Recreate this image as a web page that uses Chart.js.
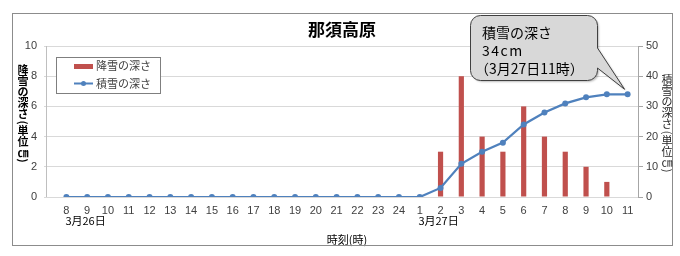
<!DOCTYPE html>
<html>
<head>
<meta charset="utf-8">
<script src="https://cdn.jsdelivr.net/npm/chart.js@4/dist/chart.umd.min.js"></script>
<style>
html, body { margin: 0; padding: 0; background: #fff; }
#wrap { width: 680px; height: 256px; }
</style>
</head>
<body>
<div id="wrap"><canvas id="chart" width="680" height="256"></canvas></div>
<script>
// hours from 3/26 8時 to 3/27 11時
var hours = ['8','9','10','11','12','13','14','15','16','17','18','19','20','21','22','23','24',
             '1','2','3','4','5','6','7','8','9','10','11'];
var dateMarks = { 0: '3月26日', 18: '3月27日' };
var snowfall  = [0,0,0,0,0,0,0,0,0,0,0,0,0,0,0,0,0, 0,3,8,4,3,6,4,3,2,1,0];
var snowDepth = [0,0,0,0,0,0,0,0,0,0,0,0,0,0,0,0,0, 0,3,11,15,18,24,28,31,33,34,34];
var leftTicks  = [0, 10, 2];   // min, max, step
var rightTicks = [0, 50, 5];

var chartTitle = '那須高原';
var leftTitle = '降雪の深さ(単位㎝)';
var rightTitle = '積雪の深さ(単位㎝)';
var xTitle = '時刻(時)';

var NUM = '"Liberation Sans", "Noto Sans CJK JP", sans-serif';
var JP = '"Noto Sans CJK JP", sans-serif';
var RED = '#C0504D', BLUE = '#4F81BD';

// stacked (tategaki) axis title, brackets turned sideways
function drawVertical(ctx, text, x, y0) {
  var y = y0, prev = null;
  Array.from(text).forEach(function (ch) {
    var paren = (ch === '(' || ch === ')');
    var a = paren ? 6 : (ch === '㎝' ? 10 : 11);
    if (prev !== null) y += (prev + a) / 2;
    if (paren) {
      ctx.save();
      ctx.translate(x, y);
      ctx.rotate(Math.PI / 2);
      ctx.fillText(ch, 0, 0);
      ctx.restore();
    } else {
      ctx.fillText(ch, x, y);
    }
    prev = a;
  });
}

var decor = {
  id: 'decor',
  beforeDraw: function (chart) {
    var ctx = chart.ctx;
    ctx.save();
    ctx.fillStyle = '#fff';
    ctx.fillRect(0, 0, chart.width, chart.height);
    ctx.restore();
  },
  afterDraw: function (chart) {
    var ctx = chart.ctx, sc = chart.scales, area = chart.chartArea;
    ctx.save();

    // outer frame
    ctx.strokeStyle = '#8c8c8c';
    ctx.lineWidth = 1;
    ctx.strokeRect(12.5, 13.5, 660, 232);

    // left axis line
    var xl = Math.round(area.left - sc.y.options.grid.tickLength + 2) + 0.5;
    ctx.strokeStyle = '#bfbfbf';
    ctx.beginPath(); ctx.moveTo(xl, area.top); ctx.lineTo(xl, area.bottom); ctx.stroke();

    // title
    ctx.fillStyle = '#000';
    ctx.font = 'bold 17px ' + JP;
    ctx.textAlign = 'center'; ctx.textBaseline = 'middle';
    ctx.fillText(chartTitle, 342, 30);

    // vertical axis titles
    ctx.font = 'bold 11px ' + JP;
    ctx.fillStyle = '#000';
    drawVertical(ctx, leftTitle, 23, 70);
    ctx.font = '11px ' + JP;
    ctx.fillStyle = '#262626';
    drawVertical(ctx, rightTitle, 667, 80);

    // date labels under hours
    ctx.font = '11px ' + JP;
    ctx.fillStyle = '#000';
    Object.keys(dateMarks).forEach(function (k, i) {
      var px = sc.x.getPixelForValue(Number(k));
      if (i === 0) { ctx.textAlign = 'left'; ctx.fillText(dateMarks[k], px - 1, 221); }
      else { ctx.textAlign = 'center'; ctx.fillText(dateMarks[k], px - 2, 221); }
    });

    // legend
    ctx.fillStyle = '#fff';
    ctx.fillRect(56.5, 57.5, 104, 36);
    ctx.strokeStyle = '#7f7f7f';
    ctx.strokeRect(56.5, 57.5, 104, 36);
    var bar = chart.data.datasets[0], line = chart.data.datasets[1];
    ctx.fillStyle = bar.backgroundColor;
    ctx.fillRect(74, 64, 19, 5);
    ctx.strokeStyle = line.borderColor;
    ctx.lineWidth = 2;
    ctx.beginPath(); ctx.moveTo(74, 83.5); ctx.lineTo(93, 83.5); ctx.stroke();
    ctx.fillStyle = line.borderColor;
    ctx.beginPath(); ctx.arc(83.5, 83.5, 2.5, 0, Math.PI * 2); ctx.fill();
    ctx.fillStyle = '#404040';
    ctx.font = '11px ' + JP;
    ctx.textAlign = 'left'; ctx.textBaseline = 'middle';
    ctx.fillText(bar.label, 96, 66);
    ctx.fillText(line.label, 96, 84);

    // callout pointing at the last depth value
    var last = snowDepth.length - 1;
    var tx = sc.x.getPixelForValue(last) - 3;
    var ty = sc.y1.getPixelForValue(snowDepth[last]) - 5;
    var L = 470.5, R = 597.5, T = 15.5, B = 80.5, r = 10;
    ctx.beginPath();
    ctx.moveTo(L + r, T);
    ctx.lineTo(R - r, T);
    ctx.arcTo(R, T, R, T + r, r);
    ctx.lineTo(R, 48);
    ctx.lineTo(tx, ty);
    ctx.lineTo(R, 68);
    ctx.lineTo(R, B - r);
    ctx.arcTo(R, B, R - r, B, r);
    ctx.lineTo(L + r, B);
    ctx.arcTo(L, B, L, B - r, r);
    ctx.lineTo(L, T + r);
    ctx.arcTo(L, T, L + r, T, r);
    ctx.closePath();
    ctx.save();
    ctx.shadowColor = 'rgba(0,0,0,0.25)';
    ctx.shadowOffsetX = 1.5;
    ctx.shadowOffsetY = 1.5;
    ctx.shadowBlur = 2;
    ctx.fillStyle = '#d8d8d8';
    ctx.fill();
    ctx.restore();
    ctx.strokeStyle = '#404040';
    ctx.lineWidth = 1;
    ctx.stroke();

    ctx.fillStyle = '#000';
    ctx.font = '14px ' + JP;
    ctx.textAlign = 'left'; ctx.textBaseline = 'middle';
    ctx.fillText(line.label, 482, 33);
    ctx.letterSpacing = '1.5px';
    ctx.fillText(snowDepth[last] + 'cm', 482, 51);
    ctx.letterSpacing = '0px';
    ctx.fillText('（3月27日' + hours[last] + '時）', 475, 69);

    ctx.restore();
  }
};

var ctx = document.getElementById('chart').getContext('2d');
new Chart(ctx, {
  data: {
    labels: hours,
    datasets: [
      {
        type: 'bar',
        label: '降雪の深さ',
        data: snowfall,
        yAxisID: 'y',
        backgroundColor: RED,
        barPercentage: 0.25,
        categoryPercentage: 1,
        order: 1
      },
      {
        type: 'line',
        label: '積雪の深さ',
        data: snowDepth,
        yAxisID: 'y1',
        borderColor: BLUE,
        backgroundColor: BLUE,
        borderWidth: 2.25,
        pointRadius: 3,
        pointBackgroundColor: BLUE,
        pointBorderWidth: 0,
        tension: 0,
        order: 0
      }
    ]
  },
  options: {
    responsive: false,
    animation: false,
    layout: { padding: { left: 12, right: 8, top: 46, bottom: 10 } },
    plugins: {
      legend: { display: false },
      tooltip: { enabled: false },
      title: { display: false }
    },
    scales: {
      x: {
        grid: { display: false, drawTicks: false },
        border: { display: false },
        ticks: { padding: 7, color: '#404040', font: { size: 11, family: NUM }, maxRotation: 0, autoSkip: false },
        title: { display: true, text: xTitle, color: '#000', font: { size: 11, family: JP }, padding: 0 },
        afterFit: function (s) { s.height = 49; }
      },
      y: {
        position: 'left',
        min: leftTicks[0], max: leftTicks[1],
        ticks: { stepSize: leftTicks[2], padding: 7, color: '#404040', font: { size: 11, family: NUM } },
        grid: { color: '#d9d9d9', tickLength: 12 },
        border: { display: false },
        afterFit: function (s) { s.width = 44; }
      },
      y1: {
        position: 'right',
        min: rightTicks[0], max: rightTicks[1],
        ticks: { stepSize: rightTicks[2], padding: 3, color: '#404040', font: { size: 11, family: NUM } },
        grid: { drawOnChartArea: false, tickLength: 5, color: '#a6a6a6' },
        border: { display: true, color: '#a6a6a6' },
        afterFit: function (s) { s.width = 34; }
      }
    }
  },
  plugins: [decor]
});
</script>
</body>
</html>
